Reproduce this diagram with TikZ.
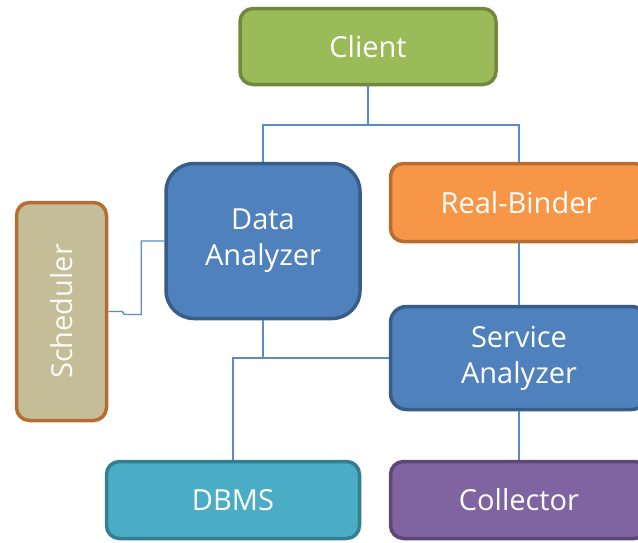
\documentclass[tikz,border=0pt]{standalone}
\usepackage{fontspec}
\setmainfont{Open Sans}
\usepackage{tikz}
\usetikzlibrary{positioning}

\definecolor{clientgreen}{HTML}{9BBB59}
\definecolor{clientedge}{HTML}{71893F}
\definecolor{boxblue}{HTML}{4F81BD}
\definecolor{blueedge}{HTML}{385D8A}
\definecolor{binderorange}{HTML}{F79646}
\definecolor{orangeedge}{HTML}{B66D31}
\definecolor{schedtan}{HTML}{C4BD97}
\definecolor{dbteal}{HTML}{4BACC6}
\definecolor{tealedge}{HTML}{357D91}
\definecolor{collpurple}{HTML}{8064A2}
\definecolor{purpleedge}{HTML}{5C4776}
\definecolor{linkblue}{HTML}{5B8BC9}

\begin{document}
\begin{tikzpicture}[
			x=1pt, y=-1pt,
			box/.style = {draw, line width=3.5pt, rounded corners=13pt, text=white,
				align=center, inner sep=0pt, font=\fontsize{29}{36}\selectfont},
			link/.style = {draw=linkblue, line width=1.4pt}
		]
		\useasboundingbox (0,0) rectangle (638,542);
		\clip (0,0) rectangle (638,542);
		% Top.
		\node[box, fill=clientgreen, draw=clientedge, minimum width=256pt, minimum height=76pt] (cl) at (368,46.5) {Client};
		% Middle row.
		\node[box, fill=boxblue, draw=blueedge, rounded corners=28pt, minimum width=194pt, minimum height=155pt] (da) at (263,241) {Data\\Analyzer};
		\node[box, fill=binderorange, draw=orangeedge, minimum width=257pt, minimum height=78pt] (rb) at (519,202.5) {Real-Binder};
		\node[box, fill=schedtan, draw=orangeedge, minimum width=90pt, minimum height=218pt] (sc) at (61.5,311.5) {};
		\node[rotate=90, text=white!92!schedtan, font=\fontsize{29}{36}\selectfont] (sctext) at (sc.center) {Scheduler};
		\node[box, fill=boxblue, draw=blueedge, rounded corners=16pt, minimum width=257pt, minimum height=103pt] (sa) at (519,358) {Service\\Analyzer};
		% Bottom row.
		\node[box, fill=dbteal, draw=tealedge, minimum width=253pt, minimum height=77pt] (db) at (233,500) {DBMS};
		\node[box, fill=collpurple, draw=purpleedge, minimum width=257pt, minimum height=77pt] (co) at (519,500) {Collector};

		\coordinate (top) at (368,125);
		\coordinate (mid) at (da.south |- sa.west);
		\draw[link] (cl.south) -- (top);
		\draw[link] (top) -| (da.north);
		\draw[link] (top) -| (rb.north);
		\draw[link] (rb.south) -- (sa.north);
		\draw[link] (sa.south) -- (co.north);
		\draw[link] (da.south) -- (mid) -- (sa.west);
		\draw[link] (mid) -| (db.north);
		\draw[link] (sc.east) -- ++(14,0) -- ++(2,3) -- ++(17,0) |- (da.west);
	\end{tikzpicture}
\end{document}
